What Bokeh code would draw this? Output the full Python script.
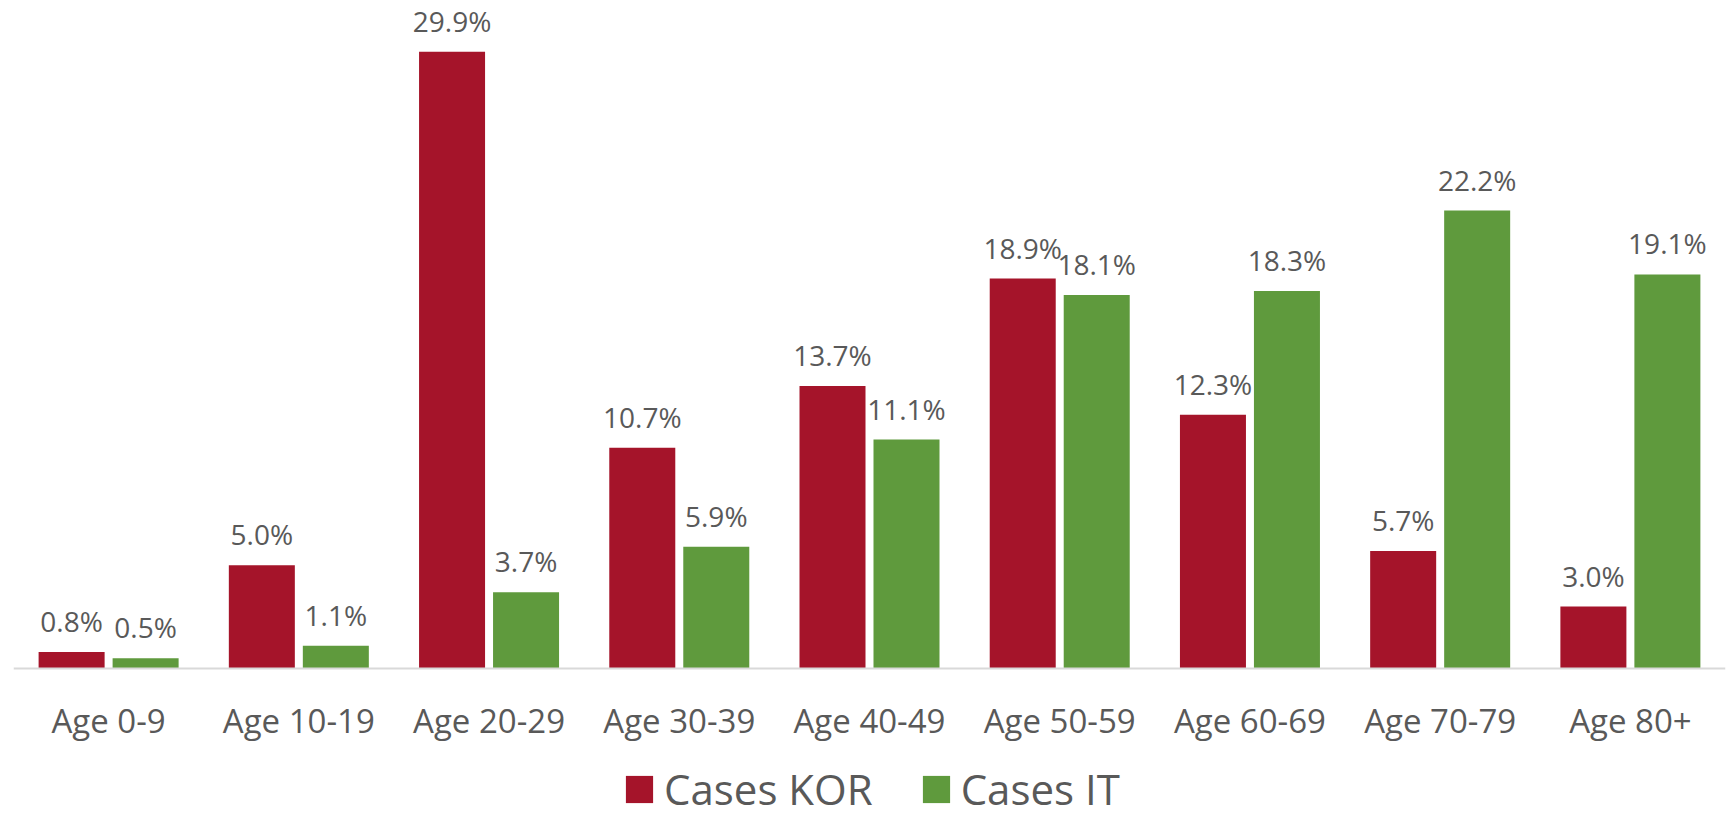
from bokeh.plotting import figure
from bokeh.models import ColumnDataSource, LabelSet, Legend, LegendItem, FactorRange, Range1d
from bokeh.transform import dodge
from bokeh.core.properties import value
from bokeh.embed import file_html
from bokeh.resources import INLINE

categories = ["Age 0-9", "Age 10-19", "Age 20-29", "Age 30-39", "Age 40-49",
              "Age 50-59", "Age 60-69", "Age 70-79", "Age 80+"]
cases_kor = [0.8, 5.0, 29.9, 10.7, 13.7, 18.9, 12.3, 5.7, 3.0]
cases_it = [0.5, 1.1, 3.7, 5.9, 11.1, 18.1, 18.3, 22.2, 19.1]

RED = "#A5142A"
GREEN = "#5F9A3D"
TXT = "#595959"
FONT = "Open Sans"

src = ColumnDataSource(dict(
    cat=categories,
    kor=cases_kor,
    it=cases_it,
    kor_lbl=[f"{v:.1f}%" for v in cases_kor],
    it_lbl=[f"{v:.1f}%" for v in cases_it],
))

p = figure(x_range=FactorRange(*categories, range_padding=0), y_range=Range1d(-7.27, 32.38),
           width=1729, height=818, output_backend="svg", toolbar_location=None,
           min_border_left=13, min_border_right=4, min_border_top=0, min_border_bottom=0)

off = 0.1945
bw = 0.347
r_kor = p.vbar(x=dodge("cat", -off, range=p.x_range), top="kor", bottom=0, width=bw, source=src,
               fill_color=RED, line_color=None)
r_it = p.vbar(x=dodge("cat", off, range=p.x_range), top="it", bottom=0, width=bw, source=src,
              fill_color=GREEN, line_color=None)

for col, lbl, dx in (("kor", "kor_lbl", -off), ("it", "it_lbl", off)):
    ls = LabelSet(x=dodge("cat", dx, range=p.x_range), y=col, text=lbl, source=src,
                  text_align="center", text_baseline="alphabetic", y_offset=20,
                  text_font=value(FONT), text_font_size="28px", text_color=TXT)
    p.add_layout(ls)

p.yaxis.visible = False
p.xgrid.grid_line_color = None
p.ygrid.grid_line_color = None
p.outline_line_color = None
p.background_fill_color = "white"
p.border_fill_color = "white"

xa = p.xaxis[0]
xa.fixed_location = 0
xa.axis_line_color = "#D9D9D9"
xa.axis_line_width = 2
xa.major_tick_line_color = None
xa.minor_tick_line_color = None
xa.major_tick_out = 0
xa.major_tick_in = 0
xa.major_label_standoff = 29
xa.major_label_text_font = FONT
xa.major_label_text_font_size = "33px"
xa.major_label_text_color = TXT

legend = Legend(items=[LegendItem(label="Cases KOR", renderers=[r_kor]),
                       LegendItem(label="Cases IT", renderers=[r_it])],
                orientation="horizontal", location=(609, 1),
                spacing=46, label_standoff=8, glyph_width=34, glyph_height=34,
                padding=0, margin=0, border_line_color=None, background_fill_alpha=0,
                label_text_font=FONT, label_text_font_size="42px", label_text_color=TXT)
p.add_layout(legend, "center")

open("out.html", "w").write(file_html(p, INLINE))
